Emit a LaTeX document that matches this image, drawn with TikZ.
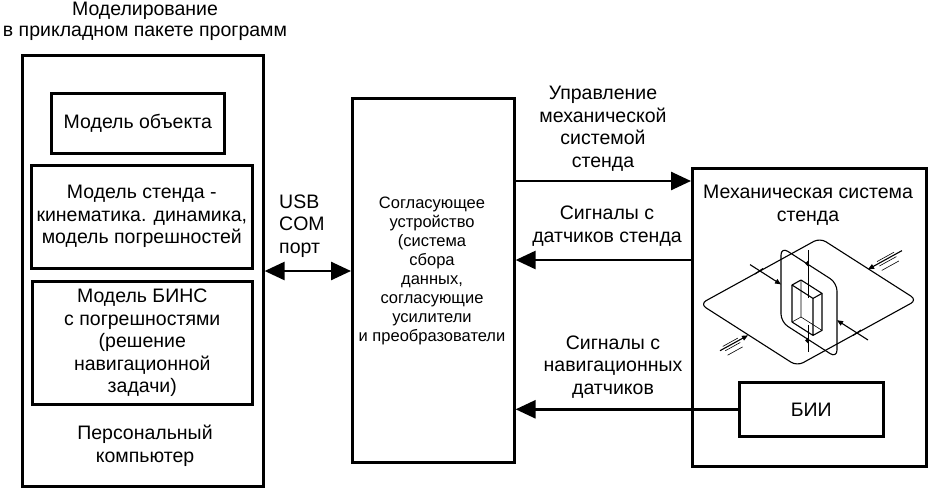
\documentclass[tikz,border=0pt]{standalone}
\usepackage{fontspec}
\setmainfont{Liberation Sans}
\usetikzlibrary{arrows.meta,calc}
\begin{document}
\begin{tikzpicture}[x=1pt,y=-1pt,
  box/.style={draw, line width=2.6pt, inner sep=0pt},
  txt/.style={align=center, font=\fontsize{19.5}{22.5}\selectfont, inner sep=0pt},
  small/.style={align=center, font=\fontsize{16.5}{19}\selectfont, inner sep=0pt},
  conn/.style={line width=2.6pt, -{Triangle[length=20pt,width=18pt]}},
  dconn/.style={line width=2.6pt, {Triangle[length=20pt,width=18pt]}-{Triangle[length=20pt,width=18pt]}},
  mech/.style={line width=1.1pt, line join=round},
  hid/.style={line width=0.6pt},
  bear/.style={mech, -{Triangle[length=6pt,width=5pt]}}]
\useasboundingbox (0,0) rectangle (928,487);

% left block
\node[txt, font=\fontsize{19.5}{21}\selectfont] (title) at (145,21) {Моделирование\\в прикладном пакете программ};
\node[box, minimum width=241pt, minimum height=431pt, anchor=north west] (pc) at (21,54) {};
\node[box, txt, minimum width=173pt, minimum height=60pt, anchor=north west] (obj) at (50,92) {Модель объекта};
\node[box, txt, minimum width=221pt, minimum height=103pt, anchor=north west] (stand) at (30,164) {Модель стенда -\\кинематика. динамика,\\модель погрешностей};
\node[box, txt, minimum width=220pt, minimum height=123pt, anchor=north west] (bins) at (31,280) {Модель БИНС\\с погрешностями\\(решение\\навигационной\\задачи)};
\node[txt] (pclab) at (145,446) {Персональный\\компьютер};

% middle block
\node[box, minimum width=162pt, minimum height=364pt, anchor=north west] (mid) at (351,97) {};
\node[small] (midlab) at (432,270.5) {Согласующее\\устройство\\(система\\сбора\\данных,\\согласующие\\усилители\\и преобразователи};

% right block
\node[box, minimum width=234pt, minimum height=298pt, anchor=north west] (mechsys) at (691,167) {};
\node[txt] (mechlab) at (808,205) {Механическая система\\стенда};
\node[box, txt, minimum width=144pt, minimum height=54pt, anchor=north west] (bii) at (738,381) {БИИ};

% connectors
\coordinate (yusb) at (0,271);
\coordinate (yctl) at (0,181);
\coordinate (ysen) at (0,260);
\draw[dconn] (pc.east |- yusb) -- (mid.west |- yusb);
\draw[conn] (mid.east |- yctl) -- (mechsys.west |- yctl);
\draw[conn] (mechsys.west |- ysen) -- (mid.east |- ysen);
\draw[conn] (bii.west) -- (mid.east |- bii.west);

\node[txt, align=left, anchor=west] (usblab) at (279,226) {USB\\COM\\порт};
\node[txt] (ctllab) at (603,128.5) {Управление\\механической\\системой\\стенда};
\node[txt] (senlab) at (607,226) {Сигналы с\\датчиков стенда};
\node[txt] (navlab) at (613,367) {Сигналы с\\навигационных\\датчиков};

% mechanical drawing
\coordinate (L) at (700,304);
\coordinate (T) at (820,238);
\coordinate (R) at (917,300);
\coordinate (B) at (797,366);
\draw[mech, rounded corners=7pt] (L) -- (T) -- (R) -- (B) -- cycle;
\draw[mech, rounded corners=8pt] (781,247) -- (837,283) -- (837,358) -- (781,322) -- cycle;
% box
\coordinate (A) at (792,285);
\coordinate (Bb) at (801,280);
\coordinate (C) at (822,293.4);
\coordinate (D) at (813,298.4);
\coordinate (A2) at (792,322);
\coordinate (B2) at (801,317);
\coordinate (C2) at (822,330.4);
\coordinate (D2) at (813,335.4);
\draw[hid] (Bb) -- (B2) (A2) -- (B2) -- (C2);
\draw[mech] (A) -- (Bb) -- (C) -- (D) -- cycle;
\draw[mech] (A) -- (A2) -- (D2) -- (C2) -- (C) (D) -- (D2);
% vertical axis
\draw[mech] (808.5,250) -- (808.5,298);
\draw[mech] (808.5,325) -- (808.5,352);
\fill (805,263.5) -- (808.5,260) -- (808.5,267) -- cycle;
\fill (805,340.5) -- (808.5,337) -- (808.5,344) -- cycle;
% inner axis with bearings
\draw[bear] (750,264.6) -- (781,284.4);
\draw[bear] (868,340) -- (837,320.2);
\draw[mech] (755,274) -- (763,268.5);
\draw[mech] (853,335.5) -- (861,330);
% outer axis with fixed supports
\draw[bear] (720,350.7) -- (748,335.3);
\draw[bear] (902,250.6) -- (868,269.3);
\draw[hid] (722.8,346.4) -- (737.8,338.1);
\draw[hid] (725.2,350.8) -- (740.2,342.5);
\draw[hid] (727.6,355.2) -- (742.6,346.9);
\draw[hid] (877,261.6) -- (894,252.2);
\draw[hid] (879.4,266) -- (896.4,256.6);
\draw[hid] (881.8,270.4) -- (898.8,261);
\end{tikzpicture}
\end{document}
